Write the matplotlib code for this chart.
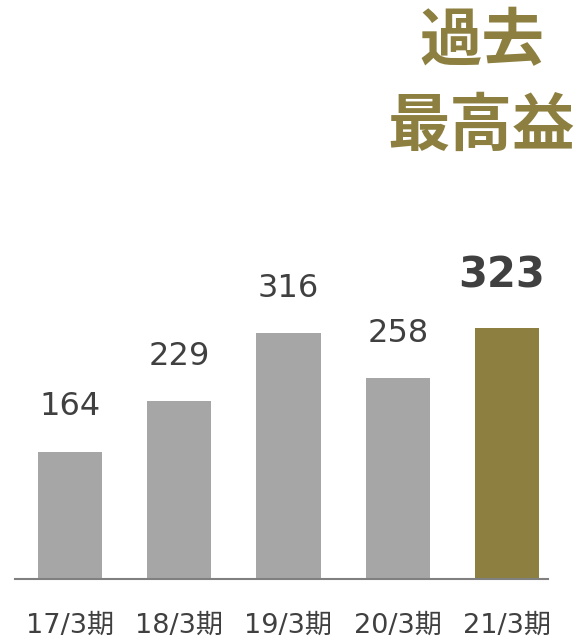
import matplotlib
matplotlib.use("Agg")
import matplotlib.pyplot as plt

# データ
periods = ["17/3期", "18/3期", "19/3期", "20/3期", "21/3期"]
profits = [164, 229, 316, 258, 323]

GRAY = "#a6a6a6"
OLIVE = "#8c7f3f"
TEXT = "#404040"

plt.rcParams['font.family'] = ['DejaVu Sans', 'Noto Sans CJK JP']

fig = plt.figure(figsize=(5.76, 6.38), dpi=100)
ax = fig.add_axes([15 / 576, 59 / 638, 533 / 576, 579 / 638])

colors = [GRAY] * (len(profits) - 1) + [OLIVE]
x = range(len(periods))
bars = ax.bar(x, profits, width=0.59, color=colors)

ax.set_xlim(-0.503, 4.375)
ax.set_ylim(0, 745)

# 数値ラベル
for i, (b, v) in enumerate(zip(bars, profits)):
    last = i == len(profits) - 1
    ax.annotate(str(v), (b.get_x() + b.get_width() / 2, v),
                xytext=(-4 if last else 0, 23 if last else 21),
                textcoords="offset points",
                ha="center", va="bottom", color=TEXT,
                fontsize=30 if last else 23,
                fontweight="bold" if last else "normal")

ax.set_xticks(list(x))
ax.set_xticklabels(periods, fontsize=19.5, color=TEXT)
ax.tick_params(axis="x", length=0, pad=24)
ax.set_yticks([])
for s in ["top", "right", "left"]:
    ax.spines[s].set_visible(False)
ax.spines["bottom"].set_color("#808080")
ax.spines["bottom"].set_linewidth(1.5)

# タイトル
fig.text(544 / 576, 1 - 42 / 638, "過去", ha="right", va="center",
         fontsize=45, fontweight="bold", color=OLIVE,
         family=["Noto Sans CJK JP"])
fig.text(575 / 576, 1 - 126 / 638, "最高益", ha="right", va="center",
         fontsize=45, fontweight="bold", color=OLIVE,
         family=["Noto Sans CJK JP"])

fig.savefig("out.png", dpi=100)
